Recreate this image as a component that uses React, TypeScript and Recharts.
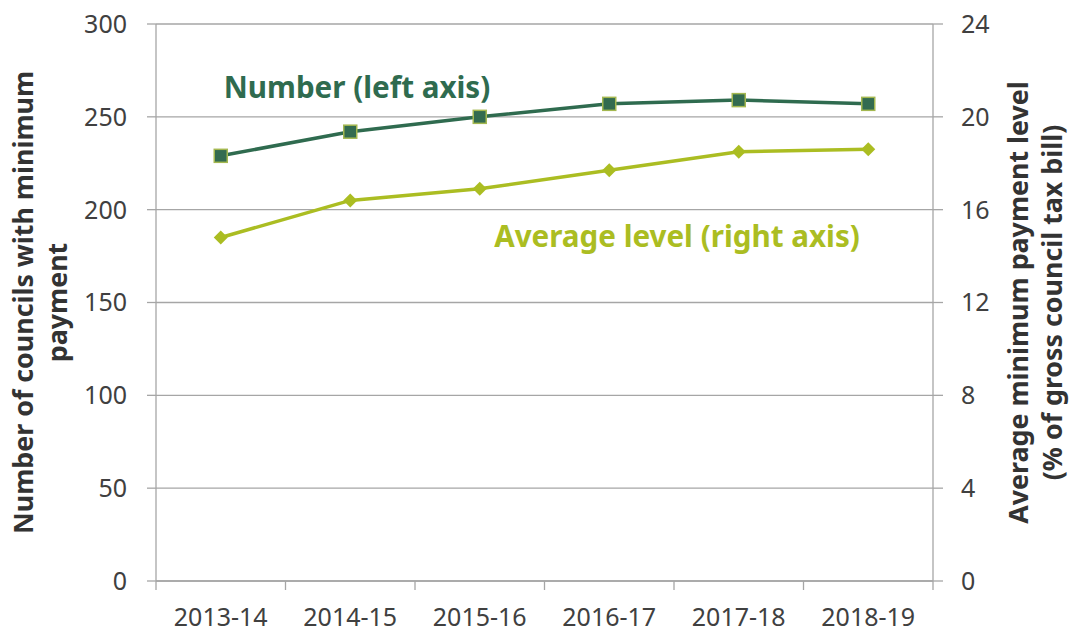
import React from 'react';
import { LineChart, Line, XAxis, YAxis, CartesianGrid } from 'recharts';

const years = ['2013-14', '2014-15', '2015-16', '2016-17', '2017-18', '2018-19'];
const numberOfCouncils = [229, 242, 250, 257, 259, 257];
const averageLevel = [14.8, 16.4, 16.9, 17.7, 18.5, 18.6];
const leftTicks = [0, 50, 100, 150, 200, 250, 300];
const rightTicks = [0, 4, 8, 12, 16, 20, 24];

const data = years.map((year, i) => ({
  year,
  number: numberOfCouncils[i],
  level: averageLevel[i],
}));

const DARK = '#2f6b4f';
const LIGHT = '#abbd22';
const GRID = '#a6a6a6';
const TEXT = '#404040';
const FONT = '"Noto Sans", "Open Sans", sans-serif';

const XTick = (props: any) => {
  const { x, y, payload, index, visibleTicksCount } = props;
  const half = payload && payload.offset ? payload.offset : 0;
  return (
    <g>
      <line x1={x - half} x2={x - half} y1={y} y2={y + 9} stroke={GRID} strokeWidth={1.3} />
      {index === visibleTicksCount - 1 && (
        <line x1={x + half} x2={x + half} y1={y} y2={y + 9} stroke={GRID} strokeWidth={1.3} />
      )}
      <text x={x} y={y + 45} textAnchor="middle" fontSize={25} fill={TEXT} fontFamily={FONT}>
        {payload.value}
      </text>
    </g>
  );
};

const LeftTitle = (props: any) => {
  const vb = props.viewBox || {};
  const cy = vb.y + vb.height / 2;
  const bx = vb.x + 32.5;
  return (
    <text
      transform={`rotate(-90, ${bx}, ${cy})`}
      x={bx}
      y={cy}
      textAnchor="middle"
      fontSize={26.8}
      fontWeight="bold"
      fill="#333333"
      fontFamily={FONT}
    >
      <tspan x={bx} dy={0}>Number of councils with minimum</tspan>
      <tspan x={bx} dy={34.5}>payment</tspan>
    </text>
  );
};

const RightTitle = (props: any) => {
  const vb = props.viewBox || {};
  const cy = vb.y + vb.height / 2;
  const bx = vb.x + 95;
  return (
    <text
      transform={`rotate(-90, ${bx}, ${cy})`}
      x={bx}
      y={cy}
      textAnchor="middle"
      fontSize={26.8}
      fontWeight="bold"
      fill="#333333"
      fontFamily={FONT}
    >
      <tspan x={bx} dy={0}>Average minimum payment level</tspan>
      <tspan x={bx} dy={33.5}>(% of gross council tax bill)</tspan>
    </text>
  );
};

const SquareDot = (props: any) => {
  const { cx, cy, index } = props;
  if (cx == null || cy == null) return null;
  return (
    <rect
      key={`sq-${index}`}
      x={cx - 6.5}
      y={cy - 6.5}
      width={13}
      height={13}
      fill="#336b50"
      stroke="#a4b850"
      strokeWidth={1.5}
    />
  );
};

const DiamondDot = (props: any) => {
  const { cx, cy, index } = props;
  if (cx == null || cy == null) return null;
  const h = 7;
  return (
    <polygon
      key={`dm-${index}`}
      points={`${cx},${cy - h} ${cx + h},${cy} ${cx},${cy + h} ${cx - h},${cy}`}
      fill={LIGHT}
    />
  );
};

const tickStyle = { fontSize: 25, fill: TEXT, fontFamily: FONT };

export default function App() {
  return (
    <div style={{ position: 'absolute', left: 0, top: 0, width: 1070, height: 631, background: '#fff' }}>
      <LineChart width={1070} height={631} data={data} margin={{ top: 24, right: 0, bottom: 0, left: 0 }}>
        <CartesianGrid yAxisId="left" vertical={false} stroke={GRID} strokeWidth={1.3} />
        <XAxis
          dataKey="year"
          scale="band"
          interval={0}
          height={50}
          tickLine={false}
          tickSize={0}
          tickMargin={0}
          axisLine={{ stroke: GRID, strokeWidth: 1.3 }}
          tick={<XTick />}
        />
        <YAxis
          yAxisId="left"
          domain={[0, 300]}
          ticks={leftTicks}
          width={156}
          tickSize={9}
          tickMargin={20}
          interval={0}
          tick={tickStyle}
          axisLine={{ stroke: GRID, strokeWidth: 1.3 }}
          tickLine={{ stroke: GRID, strokeWidth: 1.3 }}
          label={{ content: <LeftTitle /> }}
        />
        <YAxis
          yAxisId="right"
          orientation="right"
          domain={[0, 24]}
          ticks={rightTicks}
          width={137}
          tickSize={10}
          tickMargin={18}
          interval={0}
          tick={tickStyle}
          axisLine={{ stroke: GRID, strokeWidth: 1.3 }}
          tickLine={{ stroke: GRID, strokeWidth: 1.3 }}
          label={{ content: <RightTitle /> }}
        />
        <Line
          yAxisId="left"
          dataKey="number"
          stroke={DARK}
          strokeWidth={3.5}
          dot={<SquareDot />}
          activeDot={false}
          isAnimationActive={false}
        />
        <Line
          yAxisId="right"
          dataKey="level"
          stroke={LIGHT}
          strokeWidth={3.5}
          dot={<DiamondDot />}
          activeDot={false}
          isAnimationActive={false}
        />
      </LineChart>
      <svg
        width={1070}
        height={631}
        style={{ position: 'absolute', left: 0, top: 0, pointerEvents: 'none' }}
      >
        <text x={357} y={98} textAnchor="middle" fontSize={29.6} fontWeight="bold" fill={DARK} fontFamily={FONT}>
          Number (left axis)
        </text>
        <text x={677} y={247} textAnchor="middle" fontSize={29.6} fontWeight="bold" fill={LIGHT} fontFamily={FONT}>
          Average level (right axis)
        </text>
      </svg>
    </div>
  );
}
